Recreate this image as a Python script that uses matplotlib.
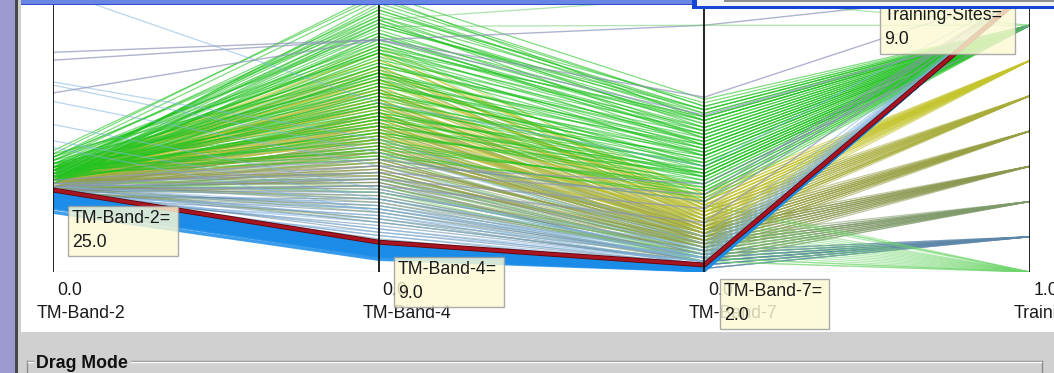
import matplotlib
matplotlib.use("Agg")
import matplotlib.pyplot as plt
from matplotlib.patches import Rectangle
from matplotlib.collections import LineCollection
import numpy as np

plt.rcParams['font.family'] = ['Liberation Sans', 'DejaVu Sans']

# ---------------- data ----------------
dimensions = ["TM-Band-2", "TM-Band-4", "TM-Band-7", "Training-Sites"]
dim_min = [0.0, 0.0, 0.0, 1.0]
dim_max = [86.0, 85.0, 80.0, 9.0]
min_labels = ["0.0", "0.0", "0.0", "1.0"]

# records: (TM-Band-2, TM-Band-4, TM-Band-7, Training-Sites)
site2 = [(24, 30, 6, 2), (25, 28, 5, 2), (26, 25, 4, 2), (23, 22, 5, 2), (25, 20, 3, 2),
         (24, 18, 4, 2), (26, 16, 2, 2), (23, 14, 3, 2), (25, 12, 2, 2), (24, 10, 1, 2),
         (26, 27, 3, 2), (25, 24, 6, 2), (25, 29, 5, 2), (24, 26, 4, 2), (26, 23, 4, 2),
         (24, 21, 3, 2), (23, 17, 2, 2), (25, 15, 3, 2), (24, 13, 2, 2), (23, 11, 1, 2),
         (26, 19, 3, 2), (25, 9, 1, 2)]
site3 = [(25, 40, 9, 3), (26, 37, 8, 3), (27, 35, 7, 3), (24, 32, 8, 3), (26, 30, 6, 3),
         (28, 28, 7, 3), (25, 26, 5, 3), (27, 24, 6, 3), (26, 22, 4, 3), (24, 20, 5, 3),
         (26, 18, 3, 3), (25, 16, 4, 3), (27, 33, 10, 3), (26, 39, 8, 3), (25, 34, 7, 3),
         (27, 31, 7, 3), (26, 27, 6, 3), (25, 23, 5, 3), (27, 21, 5, 3), (24, 19, 4, 3),
         (26, 15, 3, 3), (25, 36, 9, 3), (27, 28, 8, 3)]
site4 = [(26, 48, 13, 4), (27, 45, 11, 4), (28, 43, 12, 4), (25, 40, 10, 4), (27, 38, 9, 4),
         (29, 36, 11, 4), (26, 34, 8, 4), (28, 32, 10, 4), (27, 30, 7, 4), (25, 28, 9, 4),
         (28, 26, 6, 4), (26, 24, 8, 4), (27, 22, 5, 4), (27, 47, 12, 4), (26, 44, 11, 4),
         (28, 41, 10, 4), (27, 36, 10, 4), (26, 33, 9, 4), (28, 29, 8, 4), (27, 27, 7, 4),
         (26, 25, 6, 4), (28, 37, 12, 4), (25, 31, 7, 4)]
site1 = [(30, 70, 20, 1), (29, 65, 18, 1), (31, 60, 16, 1), (28, 55, 14, 1), (30, 50, 12, 1),
         (29, 45, 10, 1), (31, 40, 8, 1), (28, 35, 6, 1), (30, 62, 19, 1), (29, 52, 13, 1),
         (27, 30, 4, 1), (26, 26, 3, 1), (30, 67, 19, 1), (29, 58, 15, 1), (31, 48, 11, 1),
         (28, 42, 9, 1), (30, 37, 7, 1), (29, 33, 5, 1), (27, 28, 4, 1), (28, 24, 3, 1)]
site5 = [(27, 55, 15, 5), (28, 52, 13, 5), (29, 50, 14, 5), (26, 48, 12, 5), (28, 46, 11, 5),
         (30, 44, 13, 5), (27, 42, 10, 5), (29, 40, 12, 5), (28, 38, 9, 5), (26, 36, 11, 5),
         (29, 34, 8, 5), (27, 32, 10, 5), (28, 30, 7, 5), (30, 29, 9, 5), (28, 54, 14, 5),
         (27, 51, 12, 5), (29, 47, 13, 5), (28, 44, 12, 5), (27, 39, 10, 5), (29, 37, 11, 5),
         (28, 33, 9, 5), (27, 31, 8, 5), (29, 43, 11, 5), (26, 41, 9, 5)]
site6 = [(28, 62, 18, 6), (29, 60, 16, 6), (30, 58, 19, 6), (27, 56, 15, 6), (29, 54, 17, 6),
         (31, 52, 14, 6), (28, 50, 16, 6), (30, 48, 13, 6), (29, 46, 15, 6), (27, 44, 12, 6),
         (30, 42, 14, 6), (28, 40, 11, 6), (29, 38, 13, 6), (31, 36, 10, 6), (28, 35, 12, 6),
         (29, 61, 17, 6), (28, 59, 18, 6), (30, 55, 16, 6), (29, 51, 15, 6), (31, 49, 17, 6),
         (28, 47, 14, 6), (30, 45, 12, 6), (29, 41, 12, 6), (30, 39, 11, 6), (28, 37, 11, 6)]
site7 = [(29, 68, 22, 7), (30, 66, 20, 7), (28, 64, 21, 7), (31, 62, 19, 7), (29, 60, 23, 7),
         (30, 58, 18, 7), (32, 57, 20, 7), (28, 55, 17, 7), (30, 54, 21, 7), (31, 52, 16, 7),
         (29, 50, 19, 7), (30, 48, 15, 7), (28, 47, 18, 7), (31, 45, 14, 7), (29, 44, 17, 7),
         (30, 42, 13, 7), (32, 41, 16, 7), (28, 40, 12, 7), (29, 66, 19, 7), (31, 64, 22, 7),
         (30, 61, 20, 7), (28, 58, 19, 7), (31, 56, 17, 7), (29, 53, 18, 7), (30, 51, 20, 7),
         (32, 49, 17, 7), (29, 46, 14, 7), (31, 43, 15, 7)]
site8 = [(30, 80, 45, 8), (31, 78, 48, 8), (29, 76, 44, 8), (32, 75, 42, 8), (28, 74, 46, 8),
         (33, 73, 40, 8), (30, 72, 43, 8), (27, 71, 38, 8), (31, 70, 41, 8), (34, 69, 39, 8),
         (29, 68, 36, 8), (30, 67, 44, 8), (32, 66, 37, 8), (28, 65, 35, 8), (31, 64, 40, 8),
         (33, 63, 34, 8), (29, 62, 38, 8), (30, 61, 33, 8), (27, 60, 36, 8), (32, 59, 31, 8),
         (31, 58, 35, 8), (29, 57, 30, 8), (30, 56, 34, 8), (33, 55, 29, 8), (28, 54, 32, 8),
         (31, 53, 28, 8), (30, 52, 31, 8), (29, 51, 27, 8), (32, 50, 30, 8), (30, 49, 26, 8),
         (28, 48, 29, 8), (31, 47, 25, 8), (29, 46, 28, 8), (30, 45, 24, 8), (33, 44, 27, 8),
         (28, 43, 23, 8), (31, 42, 26, 8), (30, 40, 22, 8), (29, 38, 24, 8), (32, 36, 21, 8),
         (35, 82, 47, 8), (36, 84, 49, 8), (34, 79, 46, 8), (37, 83, 43, 8), (35, 77, 41, 8),
         (29, 81, 47, 8), (30, 79, 44, 8), (31, 77, 46, 8), (28, 75, 43, 8), (32, 74, 45, 8),
         (30, 71, 42, 8), (29, 69, 40, 8), (33, 68, 43, 8), (31, 67, 39, 8), (28, 66, 41, 8),
         (30, 63, 37, 8), (32, 62, 39, 8), (29, 60, 35, 8), (31, 59, 37, 8), (30, 57, 33, 8),
         (28, 56, 36, 8), (33, 54, 32, 8), (29, 53, 34, 8), (31, 51, 30, 8), (30, 50, 33, 8),
         (32, 48, 28, 8), (29, 47, 31, 8), (30, 46, 27, 8), (31, 44, 29, 8), (28, 42, 25, 8),
         (30, 41, 28, 8), (32, 39, 23, 8), (29, 37, 25, 8), (31, 35, 22, 8), (30, 34, 20, 8),
         (34, 72, 36, 8), (35, 66, 33, 8), (36, 60, 30, 8), (35, 76, 38, 8), (34, 58, 27, 8)]
site9 = [(25, 8.5, 1.8, 9), (24.5, 8, 1.6, 9), (24, 7.8, 1.5, 9), (23.5, 7.5, 1.2, 9),
         (23, 7, 1.0, 9), (22.5, 6.8, 0.9, 9), (22, 6.5, 0.8, 9), (21.5, 6, 0.6, 9),
         (21, 5.6, 0.5, 9), (20.5, 5.2, 0.4, 9), (20, 5, 0.3, 9), (19.5, 4.6, 0.2, 9),
         (24.8, 8.8, 2.0, 9), (23.8, 7.9, 1.4, 9), (22.8, 7.2, 1.1, 9), (21.8, 6.3, 0.7, 9),
         (20.8, 5.4, 0.5, 9), (19.8, 4.8, 0.3, 9), (24.2, 8.2, 1.7, 9), (23.2, 7.4, 1.3, 9),
         (22.2, 6.6, 1.0, 9), (21.2, 5.8, 0.7, 9), (20.2, 5.1, 0.4, 9), (19.2, 4.4, 0.2, 9),
         (25.2, 8.9, 2.1, 9), (24.6, 8.6, 1.9, 9), (23.6, 7.7, 1.5, 9), (22.6, 7.0, 1.2, 9),
         (21.6, 6.1, 0.8, 9), (20.6, 5.3, 0.5, 9), (18.5, 4.0, 0.2, 9), (18.0, 3.6, 0.1, 9)]
site9_faint = [(58, 40, 10, 9), (57, 36, 8, 9), (52, 32, 6, 9), (45, 25, 4, 9),
               (40, 22, 3, 9), (38, 18, 2, 9), (26, 22, 6, 9), (25, 19, 5, 9),
               (24, 17, 4, 9), (27, 24, 7, 9), (23, 15, 3, 9), (25, 13, 3, 9),
               (24, 11, 2, 9), (86, 51, 30, 9), (0, 0, 0, 1), (22, 16, 4, 9),
               (21, 12, 3, 9), (26, 20, 5, 9), (23, 19, 4, 9)]
outliers_grey = [(67, 70, 70, 9), (64.6, 70, 49.6, 9), (54.6, 70, 44.5, 8),
                 (27, 30, 22, 9), (26, 28, 18, 9), (25, 26, 14, 9), (26, 32, 25, 8),
                 (28, 34, 20, 9)]
outliers_green = [(30, 76, 78, 8), (29, 74, 70, 8)]

highlight = (25.0, 9.0, 2.0, 9.0)

# draw order / styling per group
groups = [
    (site2, '#5d86a8', 0.9, 0.55),
    (site3, '#7f9a6a', 0.9, 0.55),
    (site4, '#8a9850', 0.9, 0.55),
    (site1, '#6fd66a', 0.9, 0.5),
    (site5, '#98a044', 0.9, 0.55),
    (site6, '#a8ad3a', 0.9, 0.55),
    (site7, '#c4c42c', 0.9, 0.6),
    (site8, '#22c322', 0.9, 0.58),
    (site9_faint, '#7fb2e0', 0.9, 0.55),
    (outliers_grey, '#8d93b8', 1.0, 0.7),
    (outliers_green, '#5cc85c', 0.9, 0.5),
    (site9, '#1a8ce8', 1.3, 0.85),
]

W, H = 1054, 373
fig = plt.figure(figsize=(W / 100, H / 100), dpi=100)
fig.patch.set_facecolor('white')

# background decoration axes (pixel coords, y down)
bg = fig.add_axes([0, 0, 1, 1], zorder=0)
bg.set_xlim(0, W); bg.set_ylim(H, 0); bg.axis('off')
bg.add_patch(Rectangle((0, 0), 15, H, color='#9c99cf', lw=0))
bg.add_patch(Rectangle((15, 0), 2.5, H, color='#474747', lw=0))
bg.add_patch(Rectangle((17.5, 0), 3.5, H, color='#cfcfcf', lw=0))
bg.add_patch(Rectangle((21, 332), W - 21, H - 332, color='#d0d0d0', lw=0))
gb = '#8c8c8c'
bg.plot([27, 33], [361, 361], color=gb, lw=1)
bg.plot([131, 1042], [361, 361], color=gb, lw=1)
bg.plot([27, 27], [361, H], color=gb, lw=1)
bg.plot([1042, 1042], [361, H], color=gb, lw=1)
bg.plot([28, 33], [362, 362], color='white', lw=1)
bg.plot([131, 1041], [362, 362], color='white', lw=1)
bg.text(36, 368, "Drag Mode", fontsize=12.8, fontweight='bold', color='#101010', va='baseline')

# parallel coordinates axes
ax = fig.add_axes([53 / W, (H - 272) / H, 977 / W, 282 / H], zorder=1)
ax.patch.set_alpha(0)
ax.set_xlim(0, 3)
ax.set_ylim(0, 1)
ax.axis('off')

lo = np.array(dim_min); hi = np.array(dim_max)
xs = np.arange(len(dimensions))

def norm(rec):
    return (np.array(rec, dtype=float) - lo) / (hi - lo)

for recs, col, lw, al in groups:
    segs = [np.column_stack([xs, norm(r)]) for r in recs]
    ax.add_collection(LineCollection(segs, colors=col, linewidths=lw, alpha=al))

hl = norm(highlight)
ax.plot(xs, hl, color='#5a0810', lw=3.6, solid_capstyle='butt')
ax.plot(xs, hl, color='#a8141f', lw=2.4, solid_capstyle='butt')

ax.vlines(xs, 0, 1, color='#111111', lw=1.3)

for i, name in enumerate(dimensions):
    ax.annotate(min_labels[i], xy=(i, 0), xytext=(4, -23), textcoords='offset pixels',
                fontsize=12.8, color='#1a1a1a', va='baseline', ha='left', annotation_clip=False)
    ax.annotate(name, xy=(i, 0), xytext=(-16, -46), textcoords='offset pixels',
                fontsize=12.8, color='#1a1a1a', va='baseline', ha='left', annotation_clip=False)

# foreground decoration (title bars, tooltips)
fg = fig.add_axes([0, 0, 1, 1], zorder=2)
fg.set_xlim(0, W); fg.set_ylim(H, 0); fg.axis('off'); fg.patch.set_alpha(0)
fg.add_patch(Rectangle((21, 0), 671, 5, color='#6a86e4', lw=0))
fg.add_patch(Rectangle((21, 3.5), 671, 1.8, color='#2f4fcf', lw=0))

tooltip_boxes = [(68, 206, 110, 50), (394, 257, 110, 50), (720, 279, 109, 50), (880, 3, 135, 51)]
for i, (bx, by, bw, bh) in enumerate(tooltip_boxes):
    fg.add_patch(Rectangle((bx, by), bw, bh, facecolor='#fcfad4', edgecolor='#9a9a9a',
                           lw=1, alpha=0.82, zorder=3))
    fg.text(bx + 4, by + 17, dimensions[i] + "=", fontsize=12.8, color='#1a1a1a',
            va='baseline', zorder=4)
    fg.text(bx + 4, by + 41, f"{highlight[i]:.1f}", fontsize=12.8, color='#1a1a1a',
            va='baseline', zorder=4)
# second window edge drawn over the top tooltip
fg.add_patch(Rectangle((692, 0), W - 692, 9, color='#1646d6', lw=0, zorder=5))
fg.add_patch(Rectangle((697, 0), W - 697, 5.5, color='#f4f4f4', lw=0, zorder=5))
fg.add_patch(Rectangle((724, 0), W - 724, 2, color='#8e8e8e', lw=0, zorder=5))

fig.savefig("out.png", dpi=100)
